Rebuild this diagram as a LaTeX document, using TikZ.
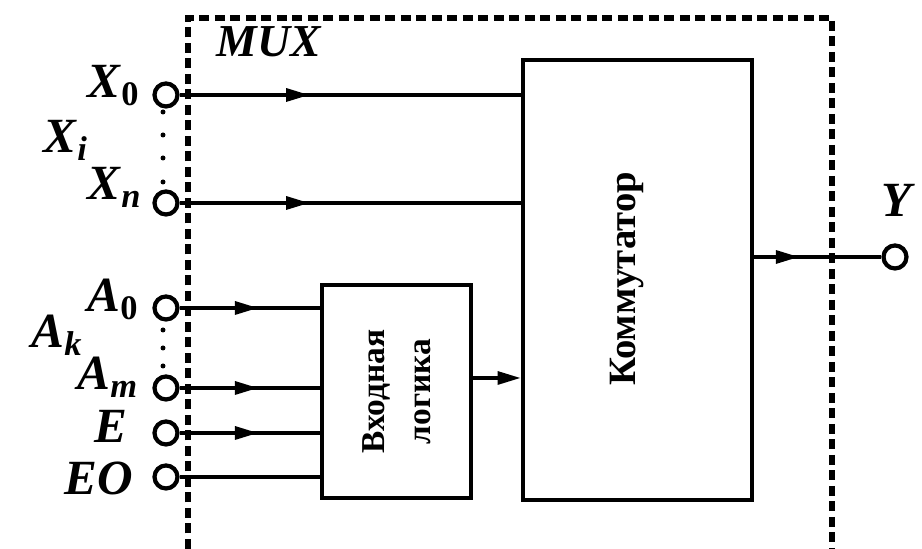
\documentclass[tikz,border=0pt]{standalone}
\usepackage{fontspec}
\setmainfont{Liberation Serif}
\usetikzlibrary{arrows.meta,positioning,decorations.markings}

\newcommand{\sig}[2]{\textbf{\textit{#1}}\textsubscript{\textbf{#2}}}

\begin{document}
\begin{tikzpicture}[
  x=0.1mm, y=-0.1mm, line width=0.9pt,
  blk/.style={draw, line width=1.4pt, inner sep=0pt},
  pin/.style={draw, circle, line width=1.2pt, minimum size=2.3mm,
              inner sep=0pt, fill=white},
  dot/.style={circle, fill, minimum size=0.5mm, inner sep=0pt},
  lab/.style={anchor=base west, inner sep=0pt,
              font=\fontsize{14}{16}\selectfont},
  frame/.style={line width=1.5pt, dash pattern=on 1mm off 0.55mm},
  arr/.style={-{Triangle[length=2.3mm, width=1.3mm]}},
  midarr/.style={postaction={decorate}, decoration={markings,
      mark=at position #1 with {\arrow{Triangle[length=2.3mm, width=1.3mm]}}}}
]
\useasboundingbox (0,0) rectangle (922,549);
% MUX frame, open at the bottom
\coordinate (fbl) at (188,549);
\coordinate (ftr) at (832,18);
\coordinate (fbr) at (832,549);
\draw[frame] (fbl) |- (ftr) -- (fbr);
\node[lab, font=\bfseries\itshape\fontsize{13}{15}\selectfont] (mux) at (215,57) {MUX};
% blocks
\node[blk, minimum width=22.9mm, minimum height=44mm] (komm) at (637.5,280) {};
\node[rotate=90, font=\bfseries\fontsize{11}{13}\selectfont] (kommtxt) at (627,279) {Коммутатор};
\node[blk, minimum width=14.9mm, minimum height=21.3mm] (logic) at (396.5,391.5) {};
\node[rotate=90, align=center, font=\bfseries\fontsize{9.5}{13}\selectfont] (logictxt)
     at (logic) {Входная\\логика};
% input and output pins
\foreach \n/\y in {x0/95, xn/203, a0/308, am/388, e/433, eo/477}
  \node[pin] (\n) at (166,\y) {};
\node[pin] (y) at (895,257) {};
% dots between pins
\foreach \y in {112,135,158,182}\node[dot] at (163,\y) {};
\foreach \y in {330,348,366}\node[dot] at (163,\y) {};
% labels
\node[lab] (lx0) at (86,98) {\sig{X}{0}};
\node[lab] (lxi) at (42,153) {\sig{X}{\textit{i}}};
\node[lab] (lxn) at (86,200) {\sig{X}{\textit{n}}};
\node[lab] (la0) at (86,312) {\sig{A}{0}};
\node[lab] (lak) at (30,348) {\sig{A}{\textit{k}}};
\node[lab] (lam) at (76,390) {\sig{A}{\textit{m}}};
\node[lab] (le) at (93,443) {\textbf{\textit{E}}};
\node[lab] (leo) at (63,495) {\textbf{\textit{EO}}};
\node[lab] (ly) at (880,217) {\textbf{\textit{Y}}};
% connections
\foreach \n in {x0,xn}\draw[midarr=0.38] (\n) -- (\n -| komm.west);
\foreach \n in {a0,am,e}\draw[midarr=0.56] (\n) -- (\n -| logic.west);
\draw (eo) -- (eo -| logic.west);
\draw[arr] (logic.east |- 0,378) -- (komm.west |- 0,378);
\draw[midarr=0.35] (komm.east |- y) -- (y);
\end{tikzpicture}
\end{document}
